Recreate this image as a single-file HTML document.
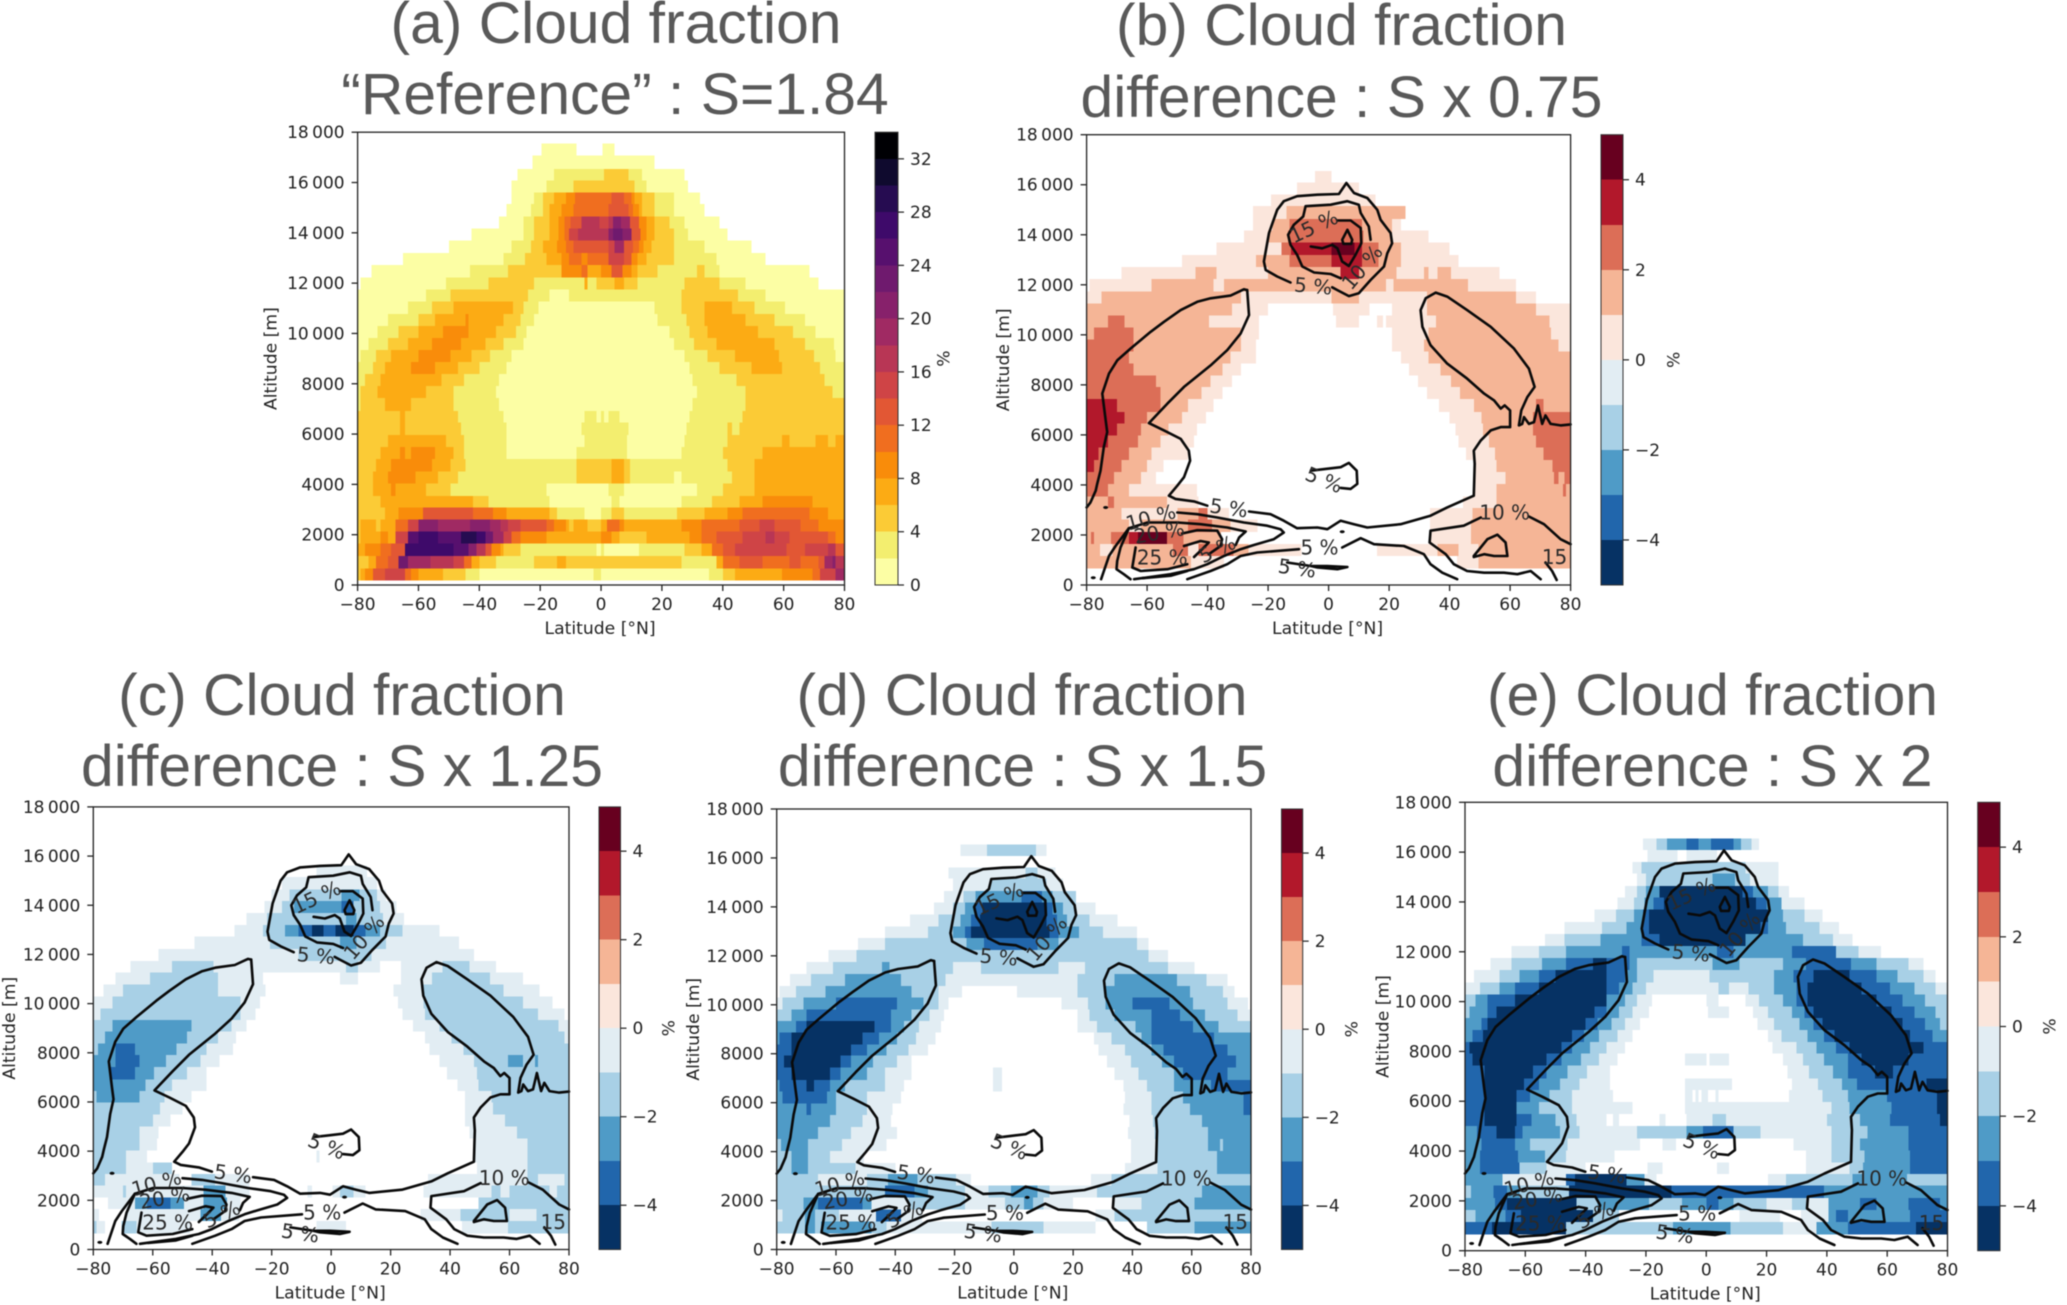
<!DOCTYPE html>
<html lang="en">
<head>
<meta charset="utf-8">
<title>Cloud fraction panels</title>
<style>
html,body{margin:0;padding:0;background:#fff;}
#figure{display:block;width:2067px;height:1305px;filter:blur(.55px);}
.title{font-family:"Liberation Sans",Arial,sans-serif;font-size:58.8px;fill:#595959;text-anchor:middle;}
.tick{font-family:"DejaVu Sans",sans-serif;font-size:17px;fill:#222;}
.axis{font-family:"DejaVu Sans",sans-serif;font-size:17.2px;fill:#222;text-anchor:middle;}
.clabel{font-family:"DejaVu Sans",sans-serif;font-size:20px;fill:#2a2a2a;text-anchor:middle;dominant-baseline:central;}
</style>
</head>
<body>
<svg id="figure" xmlns="http://www.w3.org/2000/svg" width="2067" height="1305" viewBox="0 0 2067 1305">
<rect x="0" y="0" width="2067" height="1305" fill="#fff"/>
<g>
<text class="title" x="616" y="43">(a) Cloud fraction</text>
<text class="title" x="615" y="114">“Reference” : S=1.84</text>
<text class="title" x="1341.5" y="45">(b) Cloud fraction</text>
<text class="title" x="1341.5" y="117">difference : S x 0.75</text>
<text class="title" x="342" y="715">(c) Cloud fraction</text>
<text class="title" x="342" y="786">difference : S x 1.25</text>
<text class="title" x="1022" y="715">(d) Cloud fraction</text>
<text class="title" x="1022.5" y="786">difference : S x 1.5</text>
<text class="title" x="1712.5" y="715">(e) Cloud fraction</text>
<text class="title" x="1712.5" y="786">difference : S x 2</text>
</g>
</svg>
<script>
// ---- Axis data ----
const latitudeTicks=[-80,-60,-40,-20,0,20,40,60,80];
const latitudeTickLabels=['−80','−60','−40','−20','0','20','40','60','80'];
const altitudeTicks=[0,2000,4000,6000,8000,10000,12000,14000,16000,18000];
const altitudeTickLabels=['0','2000','4000','6000','8000','10\u2009000','12\u2009000','14\u2009000','16\u2009000','18\u2009000'];
// Model level edges (m), top to bottom. Row i spans altitudeEdges[i+1]..altitudeEdges[i].
const altitudeEdges=[17560,17070,16540,16080,15610,15150,14640,14180,13690,13200,12720,12230,11740,11260,10770,10290,9810,9340,8860,8380,7920,7430,6920,6450,5970,5490,5000,4510,4030,3540,3080,2610,2120,1640,1150,660,180];

// ---- Colour scales ----
const fractionLevels=[0,2,4,6,8,10,12,14,16,18,20,22,24,26,28,30,32,34];
const fractionTicks=[0,4,8,12,16,20,24,28,32];
const fractionColors=['#fcfea4','#f3ee6f','#fbcb36','#fcab14','#f98c0a','#f06e1f','#e25734','#cf4446','#b83655','#a02a63','#87216b','#6f1a6e','#57106e','#3e0a6a','#260c51','#0f0a2e','#000004'];
const diffLevels=[-5,-4,-3,-2,-1,0,1,2,3,4,5];
const diffTicks=[-4,-2,0,2,4];
const diffTickLabels=['−4','−2','0','2','4'];
const diffColors=['#063264','#2166ac','#4f9bc7','#a8d0e6','#e2edf3','#fbe6dc','#f5b596','#dc6e57','#b2182b','#67001f'];

// ---- Cloud fraction (%) rows: [lat, value, lat, value, ..., lat]; value 0 = no data ----
const fractionRows=[
[-19.5,1,-8,0,.5,1,4.5],
[-22.5,1,17.5],
[-27.5,1,-15.5,3,1,5,9,3,13.5,1,27.5],
[-29.5,1,-18,3,-9,5,11,3,15,1,28.5],
[-29.5,1,-22,3,-19,5,-15.5,7,-11.5,9,-8.5,11,3.5,13,7.5,11,10,9,11,7,13.5,5,17.5,3,24,1,32.5],
[-31,1,-23,3,-19,5,-17,7,-13,9,-9,11,2.5,13,9,11,10.5,9,12.5,7,13.5,5,17.5,3,24,1,34],
[-33.5,1,-25.5,3,-22,5,-17,7,-14,9,-12,11,-10,13,-6.5,17,-.5,15,2.5,17,4,21,6.5,19,9.5,13,12.5,9,15,7,17.5,5,22.5,3,27.5,1,39],
[-42.5,1,-25.5,3,-22,5,-17,7,-14,9,-12,11,-10.5,15,-7.5,17,2.5,21,4,23,7,21,10,13,13,9,15,7,17.5,5,24,3,28.5,1,41.5],
[-50,1,-29.5,3,-23,5,-19,7,-14.5,9,-11.5,11,-9,13,2.5,15,4.5,19,7.5,13,10.5,11,12.5,9,14,7,16.5,5,24,3,34,1,49.5],
[-65,1,-32,3,-25,5,-18,7,-13,9,-10.5,11,-6.5,9,-4.5,11,2.5,15,7.5,13,10,9,12,7,15,5,24,3,38,1,54],
[-75.5,1,-43,3,-30.5,5,-13,9,-6.5,11,-4.5,7,0,9,3.5,13,7,9,10,7,12,5,18.5,3,31.5,5,34,3,39,1,68.5],
[-79,1,-51,3,-37,5,-22,3,-5.5,7,-4.5,3,-1.5,5,4.5,7,7.5,5,12,3,27.5,5,39,3,47.5,1,71.5],
[-80,1,-57.5,3,-49.5,5,-24,3,-17,1,-10.5,3,26.5,5,45,3,54,1,80],
[-80,1,-63.5,3,-55.5,5,-48.5,7,-29,5,-25.5,3,-20.5,1,17.5,3,26.5,5,34,7,43,5,50.5,3,60.5,1,80],
[-80,1,-70,3,-60,5,-54.5,7,-44.5,9,-43.5,7,-32,5,-26.5,3,-22,1,18.5,3,28,5,34,7,47.5,5,57,3,67,1,80],
[-80,1,-73.5,3,-66.5,5,-60,7,-52,9,-43.5,7,-34.5,5,-28,3,-24.5,1,22.5,3,29,5,35,7,51.5,5,63,3,70.5,1,80],
[-80,1,-76.5,3,-70,5,-63.5,7,-55.5,9,-46,7,-38,5,-32,3,-25.5,1,24,3,30.5,5,38,7,57,5,67,3,76.5,1,80],
[-80,1,-79,3,-74,5,-69,7,-60,9,-49.5,7,-42.5,5,-36.5,3,-29.5,1,27.5,3,35,5,44,7,58.5,5,70,3,77,1,80],
[-80,3,-75,5,-71,7,-62.5,9,-54.5,7,-47,5,-40,3,-31,1,29,3,39,5,49.5,7,59.5,5,72,3,80],
[-80,3,-77.5,5,-72.5,7,-52.5,5,-45,3,-33.5,1,30,3,44.5,5,73.5,3,80],
[-80,3,-79,5,-73.5,7,-57.5,5,-48.5,3,-34.5,1,31.5,3,47.5,5,76,3,80],
[-80,3,-79,5,-71,7,-62.5,5,-48.5,3,-33.5,1,30,3,47.5,5,80],
[-80,5,-66,7,-64.5,5,-47,3,-32,1,-5.5,3,-1.5,1,0,3,1,1,2.5,3,6,1,29,3,46.5,5,80],
[-80,5,-66,7,-64.5,5,-46,3,-31,1,-6.5,3,9,1,28,3,41.5,5,43,3,45.5,5,80],
[-80,5,-70,7,-51,5,-45,3,-31,1,-5.5,3,8.5,1,27.5,3,41.5,5,59.5,7,62,5,70.5,7,74.5,5,77,7,80],
[-80,5,-72.5,7,-66,9,-64.5,7,-62.5,9,-54.5,7,-48.5,5,-45,3,-31,1,-8,3,8.5,1,26.5,3,40,5,53,7,80],
[-80,5,-74,7,-69,9,-55.5,7,-49.5,5,-44.5,3,-8,5,3.5,7,7.5,5,9.5,3,41.5,5,50.5,7,80],
[-80,5,-75,7,-70,9,-61,7,-53.5,5,-47,3,-8,5,3.5,7,7.5,5,9.5,3,24,1,26.5,3,43,5,50.5,7,80],
[-80,5,-75,7,-69,9,-67.5,7,-57.5,5,-49.5,3,-18,1,2.5,3,7.5,1,31.5,3,40,5,50.5,7,80],
[-80,5,-72.5,7,-42,5,-37,3,-17,1,3.5,3,6,1,26.5,3,36.5,5,45.5,7,53,9,69.5,7,80],
[-80,5,-71,7,-66.5,9,-58.5,13,-42,11,-35.5,9,-31,7,-17,5,-14.5,3,-5.5,1,0,3,3.5,5,7.5,3,25,5,34,7,41.5,9,46.5,11,68.5,9,74.5,7,80],
[-80,5,-79,7,-74,5,-72.5,7,-67.5,11,-63.5,15,-60,21,-53.5,19,-43,21,-36.5,19,-33,17,-30.5,15,-26.5,13,-18,11,-15.5,9,-11.5,7,-10.5,5,-9,7,-4.5,5,0,7,2,11,6,9,7.5,7,26.5,9,33,11,45.5,13,52,15,57,13,65.5,11,71.5,9,80],
[-80,5,-79,7,-72.5,9,-70,7,-67.5,15,-63.5,25,-60,27,-53.5,25,-46,29,-41,27,-38,23,-35.5,19,-32,15,-29.5,11,-26.5,9,-18,7,0,9,3.5,7,6,5,15,7,29,9,33,11,38,13,46.5,15,54,17,57,15,62,13,74.5,11,77,9,80],
[-80,7,-77.5,9,-72.5,11,-69,13,-64.5,27,-48.5,25,-43.5,21,-41,17,-38,13,-36,9,-33,7,-32,5,-26.5,3,-1.5,1,0,3,1,1,12.5,3,27.5,5,33,7,36.5,11,40,13,44,15,61,13,67,15,74.5,17,77,13,80],
[-80,5,-76.5,7,-74,11,-70,13,-66.5,23,-63.5,19,-56,17,-48.5,15,-45,11,-42.5,7,-40,5,-34.5,3,-22,5,-14.5,7,-11.5,5,26.5,3,38,7,40,11,45.5,13,53,11,62,13,65.5,11,71.5,13,73.5,19,76,21,77,17,80],
[-80,5,-79,7,-77.5,9,-75,13,-71,15,-64.5,11,-62.5,9,-60,7,-52,5,-44.5,3,-40,1,-2.5,3,0,1,35.5,3,40,5,44,7,59.5,9,69.5,11,72,15,77,19,80]
];

// ---- Cloud fraction difference (%) rows ----
const diffRows075=[
[],
[],
[-4.5,.5,1],
[-10.5,.5,10],
[-19,.5,15.5],
[-25,.5,-14,1.5,25.5],
[-25,.5,-18.5,1.5,-13,2.5,11,1.5,21,.5,24],
[-28,.5,-20,1.5,-13.5,2.5,11.5,1.5,21,.5,33],
[-37,.5,-15.5,2.5,-12.5,3.5,1,4.5,8.5,3.5,11,2.5,16.5,1.5,24,.5,40],
[-48.5,.5,-24,1.5,-13,2.5,1,3.5,11,2.5,16.5,1.5,24,.5,43],
[-68.5,.5,-44,1.5,-37,.5,-20,1.5,4,3.5,10,1.5,22.5,.5,31.5,1.5,33,.5,36,1.5,40.5,.5,56.5],
[-79,.5,-58.5,1.5,-38,.5,-34.5,1.5,19,.5,21.5,1.5,46,.5,62],
[-80,.5,-75,1.5,-29,.5,1,1.5,10,.5,32.5,1.5,62,.5,68.5],
[-80,1.5,-32,.5,-20,0,1.5,.5,13.5,0,21,.5,32.5,1.5,68.5,.5,80],
[-80,1.5,-73,2.5,-67.5,1.5,-39.5,.5,-23,0,2.5,.5,10,0,16,.5,18,0,19,.5,35.5,1.5,73,.5,80],
[-80,1.5,-77.5,2.5,-64.5,1.5,-29,.5,-23,0,21,.5,33,1.5,73.5,.5,80],
[-80,2.5,-64.5,1.5,-29,.5,-24,0,21,.5,31.5,1.5,76,.5,80],
[-80,2.5,-66,1.5,-32.5,.5,-24,0,24,.5,33,1.5,80],
[-80,2.5,-64.5,1.5,-35,.5,-29,0,26.5,.5,37,1.5,80],
[-80,2.5,-57,1.5,-39,.5,-32,0,29.5,.5,40.5,1.5,80],
[-80,2.5,-55.5,1.5,-42,.5,-35,0,32.5,.5,43.5,1.5,80],
[-80,3.5,-70,2.5,-55.5,1.5,-46.5,.5,-38,0,36.5,.5,48,1.5,68.5,2.5,71,1.5,80],
[-80,3.5,-67.5,2.5,-60,1.5,-48.5,.5,-40.5,0,40,.5,50.5,1.5,67.5,2.5,80],
[-80,3.5,-70,2.5,-62,1.5,-53,.5,-43.5,0,42,.5,51,1.5,67.5,2.5,80],
[-80,3.5,-73,2.5,-63,1.5,-55.5,.5,-44.5,0,43,.5,53,1.5,68.5,2.5,80],
[-80,3.5,-76,2.5,-66,1.5,-58.5,.5,-46.5,0,45.5,.5,55,1.5,71,2.5,80],
[-80,3.5,-77.5,2.5,-68.5,1.5,-60,.5,-54.5,0,48,.5,55.5,1.5,74,2.5,80],
[-80,2.5,-71,1.5,-62,.5,-57,0,48,.5,58.5,1.5,74.5,2.5,76,1.5,78,2.5,80],
[-80,2.5,-73,1.5,-66,.5,-43.5,0,48,.5,55.5,1.5,77.5,2.5,78.5,1.5,80],
[-80,1.5,-73,2.5,-71,1.5,-53.5,.5,-43,0,44.5,.5,55.5,1.5,80],
[-80,1.5,-68.5,.5,-50,1.5,-43,2.5,-40,.5,-33,0,33.5,.5,47.5,1.5,80],
[-80,1.5,-66,.5,-62,1.5,-46.5,2.5,-38.5,1.5,-32.5,.5,-23.5,0,33.5,.5,47,1.5,80],
[-80,1.5,-78.5,2.5,-77.5,1.5,-72,2.5,-66,3.5,-63,4.5,-53.5,2.5,-48,1.5,-35.5,0,33.5,.5,47,1.5,80],
[-80,1.5,-75.5,.5,-71.5,1.5,-51.5,2.5,-46.5,.5,-43,2.5,-31.5,1.5,-26.5,.5,-9,0,16,.5,36,1.5,43,.5,49.5,1.5,80],
[-80,1.5,-45.5,.5,-34.5,0,42.5,.5,49.5,1.5,80],
[]
];
const diffRows125=[
[],
[],
[],
[],
[-5,-.5,12],
[-16.5,-.5,15.5],
[-20,-.5,-14,-1.5,3.5,-2.5,9.5,-1.5,15.5,-.5,18.5],
[-22.5,-.5,-16.5,-1.5,-12.5,-2.5,3.5,-3.5,7.5,-1.5,16.5,-.5,22],
[-28.5,-.5,-21.5,-1.5,5,-2.5,8.5,-1.5,17.5,-.5,24.5],
[-32.5,-.5,-23,-1.5,-15.5,-2.5,-11,-3.5,-6.5,-4.5,-2.5,-3.5,1.5,-4.5,7.5,-3.5,11.5,-2.5,16.5,-1.5,24,-.5,36.5],
[-46,-.5,-20.5,-1.5,3,-2.5,8.5,-1.5,18.5,-.5,43],
[-58,-.5,-11,-1.5,13.5,-.5,48],
[-67.5,-.5,-53.5,-1.5,-39.5,-.5,5,-1.5,9,-.5,16.5,0,23.5,-.5,37.5,-1.5,46.5,-.5,55.5],
[-72.5,-.5,-61,-1.5,-38,-.5,-23,0,3,-.5,9,0,23.5,-.5,34,-1.5,53.5,-.5,64.5],
[-76.5,-.5,-70,-1.5,-38,-.5,-22,0,21,-.5,31,-1.5,58,-.5,70],
[-80,-.5,-73.5,-1.5,-30.5,-.5,-24,0,22.5,-.5,31,-1.5,64.5,-.5,74.5],
[-80,-.5,-77.5,-1.5,-30.5,-.5,-25.5,0,24,-.5,31.5,-1.5,69.5,-.5,78.5],
[-80,-1.5,-73.5,-2.5,-47,-1.5,-33.5,-.5,-28.5,0,27.5,-.5,36.5,-1.5,76.5,-.5,80],
[-80,-1.5,-76,-2.5,-48.5,-1.5,-38,-.5,-32,0,31.5,-.5,40.5,-1.5,78.5,-.5,80],
[-80,-1.5,-78.5,-2.5,-72.5,-3.5,-66,-2.5,-52,-1.5,-42,-.5,-33,0,33,-.5,44.5,-1.5,80],
[-80,-2.5,-72.5,-3.5,-64.5,-2.5,-55.5,-1.5,-44,-.5,-37.5,0,36.5,-.5,48,-1.5,59.5,-2.5,64.5,-1.5,68.5,-2.5,69.5,-1.5,80],
[-80,-2.5,-74.5,-3.5,-66,-2.5,-59.5,-1.5,-48.5,-.5,-42,0,39,-.5,49,-1.5,80],
[-80,-2.5,-62.5,-1.5,-53.5,-.5,-42,0,42.5,-.5,49.5,-1.5,80],
[-80,-1.5,-79,-2.5,-64.5,-1.5,-56,-.5,-47,0,45,-.5,54,-1.5,80],
[-80,-1.5,-57.5,-.5,-50,0,45,-.5,54.5,-1.5,80],
[-80,-1.5,-60,-.5,-54,0,45,-.5,58.5,-1.5,80],
[-80,-1.5,-64.5,-.5,-58,0,46.5,-.5,62.5,-1.5,80],
[-80,-1.5,-64.5,-.5,-58.5,0,48,-.5,66,-1.5,80],
[-80,-1.5,-69,-.5,-62,0,-5,-.5,-4,0,48,-.5,66,-1.5,80],
[-80,-1.5,-69,-.5,-60,-1.5,-53.5,0,49,-.5,66,-1.5,80],
[-80,-1.5,-76,-.5,-51,0,-47,-1.5,-39,-.5,-27.5,0,32.5,-.5,66,-1.5,69.5,-.5,78.5,-1.5,80],
[-80,-.5,-70,-1.5,-69,-.5,-43,-2.5,-35.5,-.5,-27.5,0,-8,-.5,-6.5,0,.5,-.5,3,-1.5,7.5,-.5,11.5,0,31,-.5,54,-1.5,57,-.5,60,-1.5,73.5,-.5,76,-1.5,80],
[-75,-.5,-66,-2.5,-62,-3.5,-54,-2.5,-49.5,-.5,-43,-2.5,-35,-.5,-30.5,0,49.5,-1.5,80],
[-80,-.5,-78,0,-69,-.5,-44,-2.5,-37,-.5,-31,0,30,-.5,43.5,-1.5,60,-.5,69,-1.5,80],
[-80,-1.5,-79,-.5,-76,0,-70.5,-1.5,-65.5,-.5,-47.5,0,-5,-.5,5,0,44,-.5,59.5,-1.5,80],
[]
];
const diffRows150=[
[],
[],
[-18,-.5,-9,-1.5,7.5,-.5,11],
[],
[-22,-.5,4,-1.5,8,-.5,14],
[-20.5,-.5,-8,-1.5,11,-.5,16.5],
[-23.5,-.5,-17,-1.5,-13,-2.5,2.5,-3.5,9.5,-2.5,13,-1.5,21],
[-27,-.5,-20.5,-1.5,-16.5,-2.5,-13,-3.5,-10.5,-4.5,11,-3.5,13,-2.5,16.5,-1.5,21,-.5,27.5],
[-35,-.5,-25.5,-1.5,-18,-2.5,-14.5,-3.5,-11.5,-4.5,11,-3.5,14.5,-2.5,18,-1.5,25.5,-.5,35],
[-43.5,-.5,-29,-1.5,-20.5,-2.5,-16.5,-3.5,-14.5,-4.5,12,-3.5,15,-2.5,22,-1.5,30,-.5,41.5],
[-52.5,-.5,-43.5,-1.5,-16,-2.5,-10,-3.5,8,-2.5,15,-1.5,41.5,-.5,45.5],
[-62.5,-.5,-53,-1.5,45.5,-.5,52],
[-70,-.5,-61,-1.5,-44.5,-2.5,-42,-1.5,-20.5,-.5,-11,-1.5,15,-.5,24,-1.5,52,-.5,61],
[-75.5,-.5,-68.5,-1.5,-57,-2.5,-38,-1.5,-23,-.5,21.5,-1.5,34,-2.5,55,-1.5,65,-.5,72],
[-79,-.5,-73.5,-1.5,-63.5,-2.5,-34.5,-1.5,-25.5,-.5,-17.5,0,1,-.5,21.5,-1.5,31,-2.5,59.5,-1.5,70.5,-.5,74.5],
[-80,-.5,-78,-1.5,-71,-2.5,-60,-3.5,-39.5,-2.5,-30.5,-1.5,-25.5,-.5,-22,0,16,-.5,25,-1.5,31,-2.5,40,-3.5,52.5,-2.5,60.5,-1.5,72,-.5,79],
[-80,-1.5,-75,-2.5,-70,-3.5,-41.5,-2.5,-34.5,-1.5,-28.5,-.5,-23.5,0,21.5,-.5,25.5,-1.5,34,-2.5,46.5,-3.5,56,-2.5,64.5,-1.5,75.5,-.5,80],
[-80,-2.5,-73.5,-3.5,-70,-4.5,-47,-3.5,-41.5,-2.5,-37,-1.5,-32,-.5,-24.5,0,21.5,-.5,28,-1.5,41,-2.5,46.5,-3.5,60.5,-2.5,69,-1.5,80],
[-80,-2.5,-79,-3.5,-75,-4.5,-51,-3.5,-45.5,-2.5,-39.5,-1.5,-33,-.5,-26.5,0,27,-.5,33,-1.5,43,-2.5,46.5,-3.5,67.5,-2.5,80],
[-80,-3.5,-75,-4.5,-55,-3.5,-49.5,-2.5,-43,-1.5,-35.5,-.5,-29,0,28.5,-.5,37.5,-1.5,46.5,-2.5,50.5,-3.5,72,-2.5,80],
[-80,-3.5,-77.5,-4.5,-58.5,-3.5,-55,-2.5,-47.5,-1.5,-39.5,-.5,-34.5,0,31.5,-.5,39.5,-1.5,50,-2.5,54,-3.5,75,-2.5,80],
[-80,-3.5,-75,-4.5,-62,-3.5,-58.5,-2.5,-49.5,-1.5,-43.5,-.5,-34.5,0,-7,-.5,-4,0,34,-.5,42,-1.5,54,-2.5,57,-3.5,72,-2.5,80],
[-80,-2.5,-79,-3.5,-70,-4.5,-67.5,-3.5,-62,-2.5,-57,-1.5,-43.5,-.5,-37,0,-7,-.5,-4,0,37,-.5,45,-1.5,54,-2.5,66.5,-3.5,80],
[-80,-2.5,-78,-3.5,-63,-2.5,-60,-1.5,-49.5,-.5,-38,0,37.5,-.5,46.5,-1.5,57,-2.5,77.5,-3.5,80],
[-80,-2.5,-70,-3.5,-68.5,-2.5,-60,-1.5,-49.5,-.5,-41,0,37,-.5,46.5,-1.5,59.5,-2.5,77.5,-3.5,80],
[-80,-2.5,-62,-1.5,-51,-.5,-41.5,0,39,-.5,47,-1.5,63.5,-2.5,80],
[-80,-2.5,-66,-1.5,-55,-.5,-39.5,0,38.5,-.5,47.5,-1.5,65.5,-2.5,80],
[-80,-1.5,-78.5,-2.5,-69.5,-1.5,-58,-.5,-43,0,39.5,-.5,48.5,-1.5,65.5,-2.5,69.5,-1.5,70.5,-2.5,80],
[-80,-1.5,-75,-2.5,-69.5,-1.5,-62,-.5,-50.5,0,39.5,-.5,48.5,-1.5,68.5,-2.5,80],
[-80,-1.5,-75,-2.5,-69.5,-1.5,-53.5,-.5,-40,0,37.5,-.5,48.5,-1.5,68.5,-2.5,80],
[-80,-1.5,-66,-.5,-49.5,-1.5,-42.5,-2.5,-32.5,-1.5,-19.5,-.5,-14.5,0,26,-.5,33,-1.5,80],
[-80,-1.5,-43.5,-3.5,-33.5,-2.5,-29,-1.5,-16.5,-.5,-8.5,-1.5,-1,-2.5,8,-1.5,12,-.5,28,-1.5,63.5,-2.5,80],
[-80,-1.5,-71,-2.5,-66,-3.5,-51,-2.5,-48,-.5,-35.5,-1.5,-16.5,-.5,-3,-1.5,3.5,-2.5,6.5,-1.5,10,-.5,20,0,34,-.5,43,-1.5,61,-2.5,80],
[-80,-.5,-78,-1.5,-70.5,-2.5,-67,-1.5,-59,-.5,-46.5,-3.5,-38,-.5,-31,0,27.5,-.5,34,-1.5,80],
[-80,-1.5,-70.5,-2.5,-67,-1.5,-65,-2.5,-48,-1.5,-43,-.5,-7.5,-1.5,10,-.5,27.5,0,45,-1.5,61,-2.5,80],
[]
];
const diffRows200=[
[],
[],
[-21,-.5,-16.5,-1.5,-13,-2.5,-6.5,-3.5,-2.5,-2.5,1.5,-3.5,9,-2.5,11.5,-1.5,15,-.5,17.5],
[-19.5,-.5,-9.5,0,-6.5,-.5,3.5],
[-24.5,-.5,-21.5,-1.5,13,-.5,24],
[-23,-.5,-20,-1.5,2,-2.5,9.5,-1.5,14.5,-.5,24],
[-27,-.5,-23,-1.5,-20,-2.5,-15.5,-4.5,12,-3.5,15.5,-2.5,20.5,-1.5,24,-.5,27.5],
[-29.5,-.5,-24,-1.5,-20.5,-2.5,-17.5,-3.5,-14,-4.5,16.5,-3.5,20,-2.5,25,-.5,32.5],
[-37,-.5,-30,-1.5,-24,-2.5,-21,-3.5,-19,-4.5,20.5,-2.5,25.5,-1.5,32.5,-.5,38.5],
[-47,-.5,-34.5,-1.5,-26.5,-2.5,-21.5,-3.5,-19,-4.5,18,-3.5,20.5,-2.5,26.5,-1.5,37.5,-.5,44],
[-53.5,-.5,-47,-1.5,-35,-2.5,-21.5,-3.5,-15.5,-4.5,13,-2.5,32,-1.5,42,-.5,48.5],
[-64.5,-.5,-55.5,-1.5,-46.5,-2.5,-28,-3.5,-25.5,-2.5,3.5,-3.5,9,-2.5,28.5,-3.5,43,-1.5,50.5,-.5,58],
[-71.5,-.5,-64.5,-1.5,-54.5,-2.5,-46.5,-3.5,-37.5,-4.5,-33,-3.5,-25.5,-2.5,-23,-1.5,2,-2.5,11,-1.5,25.5,-2.5,33,-3.5,48,-2.5,56.5,-1.5,67,-.5,72],
[-77,-.5,-68.5,-1.5,-62,-2.5,-55.5,-3.5,-50,-4.5,-33,-3.5,-27,-2.5,-23,-1.5,-17.5,-.5,1,-1.5,22.5,-2.5,29,-3.5,35.5,-4.5,47.5,-3.5,56.5,-2.5,63.5,-1.5,72,-.5,76],
[-80,-.5,-75,-1.5,-68.5,-2.5,-63.5,-3.5,-55.5,-4.5,-33,-3.5,-29,-2.5,-24.5,-1.5,-20,-.5,4,-1.5,7.5,-.5,14,-1.5,22.5,-2.5,30,-3.5,33.5,-4.5,51.5,-3.5,61,-2.5,69,-1.5,76,-.5,80],
[-80,-1.5,-76.5,-2.5,-72.5,-3.5,-63.5,-4.5,-33,-2.5,-27,-1.5,-23,-.5,-18,0,0,-.5,4,0,13,-.5,17.5,-1.5,25.5,-2.5,30,-3.5,33.5,-4.5,56.5,-3.5,65,-2.5,72.5,-1.5,80],
[-80,-1.5,-78.5,-2.5,-72.5,-3.5,-69.5,-4.5,-37,-3.5,-33,-2.5,-29,-1.5,-24.5,-.5,-19,0,.5,-.5,7.5,0,15.5,-.5,20.5,-1.5,28.5,-2.5,32.5,-3.5,35.5,-4.5,61.5,-3.5,69,-2.5,76,-1.5,80],
[-80,-2.5,-74.5,-3.5,-72.5,-4.5,-40,-3.5,-36,-2.5,-31.5,-1.5,-27,-.5,-22,0,17,-.5,22.5,-1.5,31,-2.5,35.5,-3.5,38.5,-4.5,65,-3.5,72.5,-2.5,77.5,-1.5,80],
[-80,-2.5,-77.5,-3.5,-74,-4.5,-44.5,-3.5,-40.5,-2.5,-35.5,-1.5,-29.5,-.5,-24.5,0,20.5,-.5,25,-1.5,33.5,-2.5,39,-3.5,42.5,-4.5,67.5,-3.5,75,-2.5,80],
[-80,-3.5,-78.5,-4.5,-48,-3.5,-44.5,-2.5,-38.5,-1.5,-33,-.5,-27,0,22,-.5,30,-1.5,36.5,-2.5,43,-3.5,47.5,-4.5,72,-3.5,80],
[-80,-3.5,-77.5,-4.5,-53,-3.5,-48,-2.5,-41.5,-1.5,-35.5,-.5,-29.5,0,-7,-.5,0,0,1,-.5,7.5,0,25.5,-.5,32,-1.5,39,-2.5,47,-3.5,51.5,-4.5,67,-3.5,80],
[-80,-3.5,-73.5,-4.5,-57.5,-3.5,-53,-2.5,-46,-1.5,-39.5,-.5,-32,0,27,-.5,34,-1.5,42,-2.5,47,-3.5,56,-4.5,62,-3.5,80],
[-80,-3.5,-73.5,-4.5,-60.5,-3.5,-55.5,-2.5,-48.5,-1.5,-42,-.5,-32,0,-7,-.5,8.5,0,28.5,-.5,37,-1.5,45,-2.5,50,-3.5,73,-4.5,80],
[-80,-3.5,-73.5,-4.5,-63,-3.5,-58.5,-2.5,-52,-1.5,-44.5,-.5,-31,0,-7,-.5,-4.5,0,-3.5,-.5,-2.5,0,-1.5,-.5,.5,0,3,-.5,4,0,27.5,-.5,38.5,-1.5,47,-2.5,60,-3.5,76.5,-4.5,80],
[-80,-3.5,-73.5,-4.5,-63,-2.5,-55.5,-1.5,-44.5,-.5,-24.5,0,-7,-.5,41.5,-1.5,47.5,-2.5,61.5,-3.5,76.5,-4.5,80],
[-80,-3.5,-73.5,-4.5,-63,-3.5,-58,-2.5,-50,-1.5,-43,-.5,-33,0,-31,-.5,-29,0,-15.5,-.5,-13.5,0,-6.5,-.5,2,-1.5,6.5,-.5,40,-1.5,51,-2.5,61,-3.5,77.5,-4.5,80],
[-80,-2.5,-76,-3.5,-69.5,-4.5,-63.5,-3.5,-61,-2.5,-48.5,-1.5,-42,-.5,-23,-1.5,-6.5,-2.5,-1,-3.5,9,-1.5,18,-.5,41.5,-1.5,53.5,-2.5,67,-3.5,80],
[-80,-2.5,-74.5,-3.5,-63.5,-2.5,-58.5,-1.5,-46,-.5,-22,0,-14.5,-.5,-10,0,29,-.5,41.5,-1.5,51,-2.5,67,-3.5,80],
[-80,-2.5,-75,-3.5,-62.5,-2.5,-53.5,-1.5,-46.5,-.5,-30.5,0,33,-.5,41.5,-1.5,52.5,-2.5,67.5,-3.5,80],
[-80,-2.5,-75,-3.5,-62,-1.5,-53,-.5,-40,0,-19.5,-.5,-14.5,0,3.5,-.5,7.5,0,33,-.5,47.5,-1.5,52,-2.5,67.5,-3.5,80],
[-80,-2.5,-67.5,-.5,-46.5,-3.5,-43.5,-4.5,-26.5,-2.5,-20.5,-.5,-16.5,0,20.5,-.5,26.5,-1.5,48.5,-2.5,66.5,-1.5,80],
[-80,-1.5,-78,-2.5,-70.5,-3.5,-66,-2.5,-62,-1.5,-45.5,-4.5,-11.5,-3.5,39,-2.5,80],
[-80,-2.5,-70,-3.5,-66,-4.5,-43,-1.5,-36,-2.5,-19,-1.5,-8,-2.5,0,-3.5,4,-2.5,9,-1.5,20,-.5,28.5,-1.5,33,-.5,40.5,-2.5,51,-3.5,56.5,-2.5,67,-3.5,77.5,-2.5,80],
[-80,-1.5,-76.5,-2.5,-66.5,-3.5,-61.5,-4.5,-37.5,-1.5,-29,0,11,-.5,24.5,0,31.5,-.5,40.5,-2.5,43,-3.5,47,-2.5,67.5,-3.5,80],
[-80,-3.5,-71,-4.5,-46.5,-1.5,-11,-2.5,8,-1.5,25.5,-.5,36.5,-2.5,47,-3.5,69.5,-4.5,80],
[]
];

// ---- Reference contours: [latitude, altitude m] ----
const contourTongueLeft=[[-26.9,11790],[-28,11820],[-32.4,11570],[-39,11460],[-43.4,11320],[-48.9,10990],[-54.4,10520],[-58.8,10120],[-65.5,9450],[-69.9,8980],[-72.6,8450],[-74.8,7650],[-73.7,6580],[-73.2,6110],[-74.3,5510],[-75.4,4570],[-76.5,4040],[-77,3770],[-78.7,3300],[-80,3100]];
const contourTongueRight=[[-26.9,11790],[-26.3,10790],[-29.1,10050],[-33.5,9390],[-39,8780],[-47.8,7920],[-53.3,7250],[-59.4,6470],[-54.4,6180],[-48.9,5840],[-46.2,5370],[-45.8,4970],[-47.8,4310],[-50,3970],[-52.8,3570],[-50.6,3440],[-44.5,3340],[-40.1,3170]];
const contourMidLevel=[[-26.3,2940],[-19.2,2830],[-14.8,2570],[-10.4,2270],[-3.7,2300],[-.4,2230],[4,2570],[8.4,2430],[12.8,2300],[23.8,2430],[33.7,2770],[39.2,3100],[48,3570],[48.3,4840],[48,5370],[50.3,5780],[53.6,6180],[56.9,6310],[60,6310],[60,6980],[58.2,7180],[56.9,7050],[54.7,7380],[51.4,7650],[45.8,8250],[39.2,8850],[33.7,9590],[31,10320],[30.4,10990],[32.1,11460],[35.4,11690],[39.2,11530],[45.8,10990],[53.6,10320],[61.3,9450],[66.2,8650],[68.1,7920],[65.7,7510],[63.7,6980],[62.9,6380],[64,6440],[64.6,6710],[66.2,6440],[67.9,6510],[69.2,7180],[70.6,6440],[71.7,6780],[73.4,6440],[76.7,6380],[80,6420]];
const contourBlob5=[[-12.6,12090],[-17,12330],[-20.8,12590],[-21.4,12930],[-19.7,14070],[-17,15000],[-14.8,15340],[-10.4,15540],[-3.7,15600],[3.4,15630],[5.9,16070],[8.4,15670],[12.8,15470],[16.1,15000],[17.2,14600],[20.5,14070],[21,13660],[19.4,13260],[18.3,12730],[13.9,12190],[10,11660],[6.7,11550],[2.9,11790],[1.2,11900]];
const contourBlob10=[[13.9,13800],[13.3,14330],[10.6,14870],[10,15200],[6.2,15340],[.7,15200],[-7.6,15140],[-8.4,14730],[-11.5,14400],[-13.4,14000],[-12.6,13600],[-10.4,13200],[-8.7,12730],[-4.8,12490],[.7,12430],[4,12260]];
const contourBlob15=[[2.9,14570],[7.3,14570],[10.6,14270],[10.8,13660],[8.9,13200],[6.7,12750],[4.5,12930],[2.9,13460],[1.2,13600],[-2.1,13460],[-5.9,13530]];
const contourBlobCore=[[6.2,14200],[7.8,13800],[7.5,13640],[4.9,13640],[4.5,13800],[6.2,14200]];
const contourCentral5=[[-5.9,4570],[-1,4640],[4,4710],[6.7,4880],[9.3,4570],[9.5,4040],[7.3,3840],[4,3880]];
const contourRight10a=[[50.3,2700],[44.7,2370],[33.7,2170],[33.4,1700],[38.7,1230],[41.4,830],[45.8,560],[51.4,490],[58,490],[62.4,430],[66.8,560],[70.1,230]];
const contourRight10b=[[66.2,2740],[71.2,2430],[76.7,1830],[80,1630]];
const contourLow5Right=[[4.5,1500],[10.6,1870],[15,1630],[24.9,1560],[31.5,1230],[33.7,830],[37.6,490],[42.5,230]];
const contourLow5Left=[[-9.8,1430],[-23.6,1300],[-29.1,1160],[-33.5,830],[-39,560],[-46.7,230]];
const contourLowest5=[[-13.7,900],[-5.9,760],[-.4,760],[6.2,720],[2.9,630],[-3.7,700],[-5.9,760]];
const contourRightSmall=[[48,1160],[52.5,1830],[55.8,2010],[58.5,1700],[59.1,1160],[54.7,1160],[51.4,1230],[48,1120]];
const contourRight15=[[71.7,900],[73.9,560],[75.4,200]];
const contourSouthOuter=[[-75.2,230],[-72.6,1160],[-70.4,1560],[-66,2270],[-59.9,2500],[-50,2500],[-42.3,2430],[-33.5,2300],[-27.4,2140],[-29.6,1900],[-30.7,1600]];
const contourSouthTop=[[-50,2900],[-43.4,2830],[-36.8,2700],[-28,2500],[-20.3,2370],[-15.9,2230],[-14.8,2100],[-18.1,1830],[-24.7,1600],[-29.1,1430],[-34.6,1160],[-40.1,830],[-44.5,630],[-52.2,430],[-64.3,230]];
const contourSouth20=[[-48.4,2060],[-43.4,2190],[-36.8,2170],[-35.2,1830],[-35.7,1560],[-39.6,1230]];
const contourSouth25=[[-47.8,1560],[-42.3,1760],[-39.6,1700],[-41.8,1430],[-44.5,1120]];
const contourSouthLoop=[[-66,2270],[-68.8,1500],[-69.9,960],[-70.1,630],[-67.7,430],[-65.5,230]];
const contourSouthInner=[[-63.8,1500],[-64.9,700],[-62.1,560],[-53.3,630],[-46.7,830]];
const contourSouthFloor=[[-61.6,270],[-52.2,370],[-46.7,560]];
const contourLines=[contourTongueLeft,contourTongueRight,contourMidLevel,contourBlob5,contourBlob10,contourBlob15,contourBlobCore,contourCentral5,contourRight10a,contourRight10b,contourLow5Right,contourLow5Left,contourLowest5,contourRightSmall,contourRight15,contourSouthOuter,contourSouthTop,contourSouth20,contourSouth25,contourSouthLoop,contourSouthInner,contourSouthFloor];
const contourSpots=[[4.5,2130],[-73.7,3100],[-77.8,290]];
const contourLabelTexts=['5 %','15 %','10 %','5 %','5 %','10 %','10 %','20 %','25 %','5 %','5 %','5 %','15'];
const contourLabelLats=[-5.1,-4.9,11.1,-33,-1.5,58.2,-58.8,-56,-55,-36.8,-3,-10.4,74.7];
const contourLabelAlts=[11950,14330,12700,3080,4200,2900,2700,2100,1100,1430,1500,670,1120];
const contourLabelAngles=[5,-25,-50,8,22,0,-15,-10,0,-25,0,8,0];

// ---- Layout ----
const panels=[
 {id:'a',rows:fractionRows,levels:fractionLevels,colors:fractionColors,ticks:fractionTicks,tickLabels:fractionTicks.map(String),contours:false,L:357.6,R:844.5,T:132.2,B:585,cL:875,cR:898,yl:271.5,pct:944.5},
 {id:'b',rows:diffRows075,levels:diffLevels,colors:diffColors,ticks:diffTicks,tickLabels:diffTickLabels,contours:true,L:1086.6,R:1570.6,T:134.7,B:585,cL:1601,cR:1623,yl:1004,pct:1674.6},
 {id:'c',rows:diffRows125,levels:diffLevels,colors:diffColors,ticks:diffTicks,tickLabels:diffTickLabels,contours:true,L:93.3,R:569,T:806.9,B:1249.5,cL:599,cR:620.5,yl:10,pct:669.6},
 {id:'d',rows:diffRows150,levels:diffLevels,colors:diffColors,ticks:diffTicks,tickLabels:diffTickLabels,contours:true,L:776.7,R:1251,T:809,B:1249.5,cL:1281.5,cR:1302.7,yl:694,pct:1352.4},
 {id:'e',rows:diffRows200,levels:diffLevels,colors:diffColors,ticks:diffTicks,tickLabels:diffTickLabels,contours:true,L:1465,R:1947.5,T:802.3,B:1250.7,cL:1977.7,cR:2000,yl:1383.5,pct:2050.5}
];

const SVGNS='http://www.w3.org/2000/svg';
const root=document.getElementById('figure');
function el(tag,attrs,parent,text){
  const n=document.createElementNS(SVGNS,tag);
  for(const k in attrs)n.setAttribute(k,attrs[k]);
  if(text!==undefined)n.textContent=text;
  parent.appendChild(n);
  return n;
}
function bandColor(value,levels,colors){
  for(let i=0;i<colors.length;i++){if(value>=levels[i]&&value<levels[i+1])return colors[i];}
  return value<levels[0]?colors[0]:colors[colors.length-1];
}

panels.forEach(function(p){
  const xOf=function(lat){return p.L+(lat+80)/160*(p.R-p.L);};
  const yOf=function(alt){return p.B-alt/18000*(p.B-p.T);};
  const g=el('g',{},root);
  
  

  // heatmap
  const hm=el('g',{'shape-rendering':'crispEdges'},g);
  
  
  p.rows.forEach(function(row,i){
    for(let k=0;k+2<row.length;k+=2){
      const v=row[k+1];
      if(v===0)continue;
      const x0=xOf(row[k]),x1=xOf(row[k+2]);
      const yTop=yOf(altitudeEdges[i]),yBot=yOf(altitudeEdges[i+1]);
      const cell=el('rect',{x:x0,y:yTop,width:x1-x0,height:yBot-yTop,fill:bandColor(v,p.levels,p.colors)},hm);
      
      
    }
  });

  // contours
  if(p.contours){
    const cg=el('g',{fill:'none',stroke:'#0a0a0a','stroke-width':2.6,'stroke-linejoin':'round','stroke-linecap':'round'},g);
    
    
    contourLines.forEach(function(line){
      const pts=line.map(function(q){return xOf(q[0]).toFixed(1)+','+yOf(q[1]).toFixed(1);}).join(' ');
      const c=el('polyline',{points:pts},cg);
      
      
    });
    contourSpots.forEach(function(q){
      const s=el('ellipse',{cx:xOf(q[0]),cy:yOf(q[1]),rx:2.5,ry:1.5,fill:'#0a0a0a',stroke:'none'},cg);
      
      
    });
    contourLabelTexts.forEach(function(t,i){
      const x=xOf(contourLabelLats[i]),y=yOf(contourLabelAlts[i]);
      const lb=el('text',{class:'clabel',x:x,y:y,transform:'rotate('+contourLabelAngles[i]+' '+x+' '+y+')',stroke:'none'},cg,t);
      
      
    });
  }

  // frame
  const frame=el('rect',{x:p.L,y:p.T,width:p.R-p.L,height:p.B-p.T,fill:'none',stroke:'#222','stroke-width':1.3},g);
  
  

  // x axis
  latitudeTicks.forEach(function(lat,i){
    const x=xOf(lat);
    const t=el('line',{x1:x,x2:x,y1:p.B,y2:p.B+6,stroke:'#222','stroke-width':1.3},g);
    
    
    const l=el('text',{class:'tick',x:x,y:p.B+25,'text-anchor':'middle'},g,latitudeTickLabels[i]);
    
    
  });
  const xt=el('text',{class:'axis',x:(p.L+p.R)/2-1,y:p.B+49},g,'Latitude [°N]');
  
  

  // y axis
  altitudeTicks.forEach(function(alt,i){
    const y=yOf(alt);
    const t=el('line',{x1:p.L-6,x2:p.L,y1:y,y2:y,stroke:'#222','stroke-width':1.3},g);
    
    
    const l=el('text',{class:'tick',x:p.L-13,y:y+6,'text-anchor':'end'},g,altitudeTickLabels[i]);
    
    
  });
  const ym=(p.T+p.B)/2;
  const yt=el('text',{class:'axis',x:p.yl,y:ym,transform:'rotate(-90 '+p.yl+' '+ym+')','dominant-baseline':'central'},g,'Altitude [m]');
  
  

  // colour bar
  const lo=p.levels[0],hi=p.levels[p.levels.length-1];
  const cy=function(v){return p.B-(v-lo)/(hi-lo)*(p.B-p.T);};
  const cb=el('g',{},g);
  
  
  p.colors.forEach(function(col,i){
    const b=el('rect',{x:p.cL,y:cy(p.levels[i+1]),width:p.cR-p.cL,height:cy(p.levels[i])-cy(p.levels[i+1]),fill:col,'shape-rendering':'crispEdges'},cb);
    
    
  });
  const cf=el('rect',{x:p.cL,y:p.T,width:p.cR-p.cL,height:p.B-p.T,fill:'none',stroke:'#333','stroke-width':1},cb);
  
  
  p.ticks.forEach(function(v,i){
    const y=cy(v);
    const t=el('line',{x1:p.cR,x2:p.cR+6,y1:y,y2:y,stroke:'#222','stroke-width':1.2},cb);
    
    
    const l=el('text',{class:'tick',x:p.cR+12,y:y+6},cb,p.tickLabels[i]);
    
    
  });
  const pc=el('text',{class:'axis',x:p.pct,y:ym,transform:'rotate(-90 '+p.pct+' '+ym+')','dominant-baseline':'central'},cb,'%');
  
  
});
</script>
</body>
</html>
